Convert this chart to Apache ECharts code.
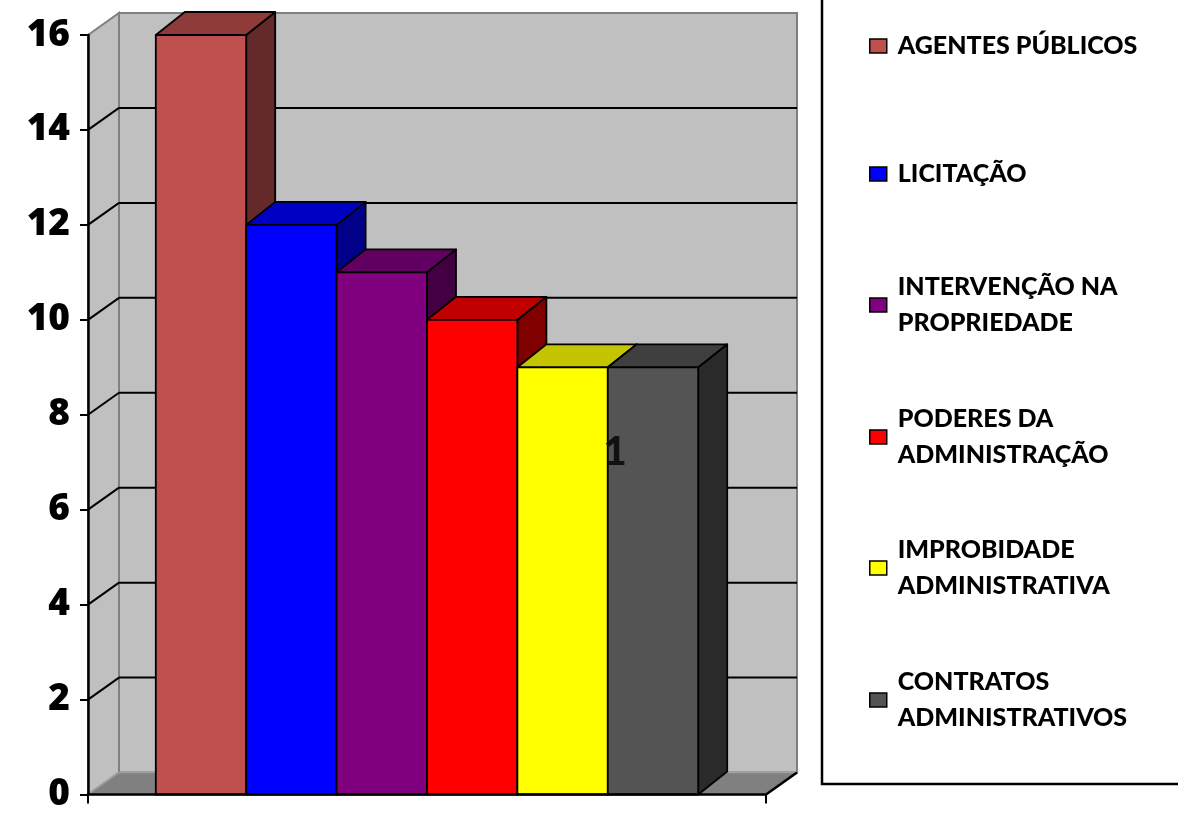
<!DOCTYPE html>
<html><head><meta charset="utf-8">
<script src="https://cdn.jsdelivr.net/npm/echarts@6/dist/echarts.min.js"></script>
<style>html,body{margin:0;padding:0;background:#fff}#c{width:1178px;height:813px}</style>
</head><body><div id="c"></div>
<script>
// ---- data ----
const categories = ['1'];
const seriesNames = ['AGENTES PÚBLICOS', 'LICITAÇÃO', 'INTERVENÇÃO NA PROPRIEDADE', 'PODERES DA ADMINISTRAÇÃO', 'IMPROBIDADE ADMINISTRATIVA', 'CONTRATOS ADMINISTRATIVOS'];
const legendLabels = ['AGENTES PÚBLICOS', 'LICITAÇÃO', 'INTERVENÇÃO NA\nPROPRIEDADE', 'PODERES DA\nADMINISTRAÇÃO', 'IMPROBIDADE\nADMINISTRATIVA', 'CONTRATOS\nADMINISTRATIVOS'];
const seriesValues = [16, 12, 11, 10, 9, 9];
const yTicks = [0, 2, 4, 6, 8, 10, 12, 14, 16];

// ---- styles ----
const frontColors = ['#C0504D', '#0000FF', '#800080', '#FF0000', '#FFFF00', '#545454'];
const topColors = ['#8E3B39', '#0000C4', '#600060', '#C00000', '#C4C400', '#3F3F3F'];
const sideColors = ['#632A29', '#000088', '#420042', '#800000', '#888800', '#2A2A2A'];
const WALL_DX = 31, WALL_DY = -22;
const BAR_DX = 29, BAR_DY = -23;
const BAR_FRACTION = 0.8;
const yMax = yTicks[yTicks.length - 1];

function renderWalls(params, api) {
  const cs = params.coordSys;
  const L = cs.x, R = cs.x + cs.width;
  const y0 = api.coord([0, 0])[1];
  const yT = api.coord([0, yMax])[1];
  const dx = WALL_DX, dy = WALL_DY;
  const ch = [];
  ch.push({ type: 'rect', shape: { x: L + dx, y: yT + dy, width: R - L, height: y0 - yT },
    style: { fill: '#C0C0C0', stroke: '#808080', lineWidth: 2 } });
  ch.push({ type: 'polygon', shape: { points: [[L, yT], [L + dx, yT + dy], [L + dx, y0 + dy], [L, y0]] },
    style: { fill: '#C0C0C0', stroke: '#808080', lineWidth: 2 } });
  ch.push({ type: 'polygon', shape: { points: [[L, y0], [L + dx, y0 + dy], [R + dx, y0 + dy], [R, y0]] },
    style: { fill: '#808080', stroke: '#A0A0A0', lineWidth: 1.5 } });
  ch.push({ type: 'line', shape: { x1: R, y1: y0, x2: R + dx, y2: y0 + dy },
    style: { stroke: '#000', lineWidth: 2.5 } });
  yTicks.forEach(function (v) {
    if (v === 0 || v === yMax) return;
    const y = api.coord([0, v])[1];
    ch.push({ type: 'line', shape: { x1: L, y1: y, x2: L + dx, y2: y + dy }, style: { stroke: '#000', lineWidth: 2 } });
    ch.push({ type: 'line', shape: { x1: L + dx, y1: y + dy, x2: R + dx, y2: y + dy }, style: { stroke: '#000', lineWidth: 2 } });
  });
  return { type: 'group', children: ch };
}

function makeBarRenderer(i) {
  return function (params, api) {
    const cat = api.value(0);
    const top = api.coord([cat, api.value(1)]);
    const base = api.coord([cat, 0]);
    const band = api.size([1, 0])[0];
    const w = band * BAR_FRACTION / seriesValues.length;
    const x0 = top[0] - band * BAR_FRACTION / 2 + i * w;
    const x1 = x0 + w;
    const yt = top[1], yb = base[1];
    const dx = BAR_DX, dy = BAR_DY;
    const st = { stroke: '#000', lineWidth: 1.8, lineJoin: 'round' };
    return { type: 'group', children: [
      { type: 'polygon', shape: { points: [[x1, yt], [x1 + dx, yt + dy], [x1 + dx, yb + dy], [x1, yb]] },
        style: Object.assign({ fill: sideColors[i] }, st) },
      { type: 'polygon', shape: { points: [[x0, yt], [x0 + dx, yt + dy], [x1 + dx, yt + dy], [x1, yt]] },
        style: Object.assign({ fill: topColors[i] }, st) },
      { type: 'rect', shape: { x: x0, y: yt, width: w, height: yb - yt },
        style: Object.assign({ fill: frontColors[i] }, st) }
    ] };
  };
}

const legendCenters = [46, 174, 305, 437, 568, 700];
const LINE_H = 36;

const chart = echarts.init(document.getElementById('c'));
const series = [{
  type: 'custom', name: '_walls', silent: true, z: 1,
  renderItem: renderWalls, data: [[0, 0]]
}];
seriesNames.forEach(function (n, i) {
  series.push({
    type: 'custom', name: n, z: 3,
    itemStyle: { color: frontColors[i] },
    renderItem: makeBarRenderer(i),
    data: [[0, seriesValues[i]]]
  });
});

const legends = seriesNames.map(function (n, i) {
  const two = legendLabels[i].indexOf('\n') >= 0;
  return {
    data: [n], orient: 'vertical', left: 869, padding: 0,
    top: legendCenters[i] - (two ? LINE_H * 1.5 : LINE_H / 2),
    itemWidth: 17, itemHeight: 14, icon: 'rect',
    itemStyle: { borderColor: '#000', borderWidth: 1.5 },
    formatter: function () { return legendLabels[i]; },
    textStyle: { fontFamily: 'Lato', fontWeight: 900, fontSize: 25, color: '#000',
      lineHeight: LINE_H, padding: [two ? LINE_H : 0, 0, 0, 6] }
  };
});

chart.setOption({
  animation: false,
  backgroundColor: '#fff',
  grid: { left: 88, right: 412, top: 35, bottom: 15.5, containLabel: false },
  xAxis: {
    type: 'category', data: categories, z: 10,
    axisLine: { lineStyle: { color: '#000', width: 2.5 } },
    axisTick: { show: true, length: 9, lineStyle: { color: '#000', width: 2 } },
    axisLabel: { show: false }
  },
  yAxis: {
    type: 'value', min: 0, max: yMax, interval: 2, z: 10,
    axisLine: { show: true, lineStyle: { color: '#000', width: 2.5 } },
    axisTick: { show: true, length: 8, lineStyle: { color: '#000', width: 2 } },
    splitLine: { show: false },
    axisLabel: { fontFamily: 'Open Sans', fontWeight: 800, fontSize: 37, color: '#000', margin: 18 }
  },
  legend: legends,
  graphic: [
    { type: 'rect', shape: { x: 822, y: -10, width: 420, height: 794 }, style: { fill: 'none', stroke: '#000', lineWidth: 2.5 }, z: 0 },
    { type: 'text', x: 615, y: 452, z: 20, style: { text: categories[0], font: '900 40px Lato', fill: '#111', align: 'center', verticalAlign: 'middle' } }
  ],
  series: series
});
</script></body></html>
